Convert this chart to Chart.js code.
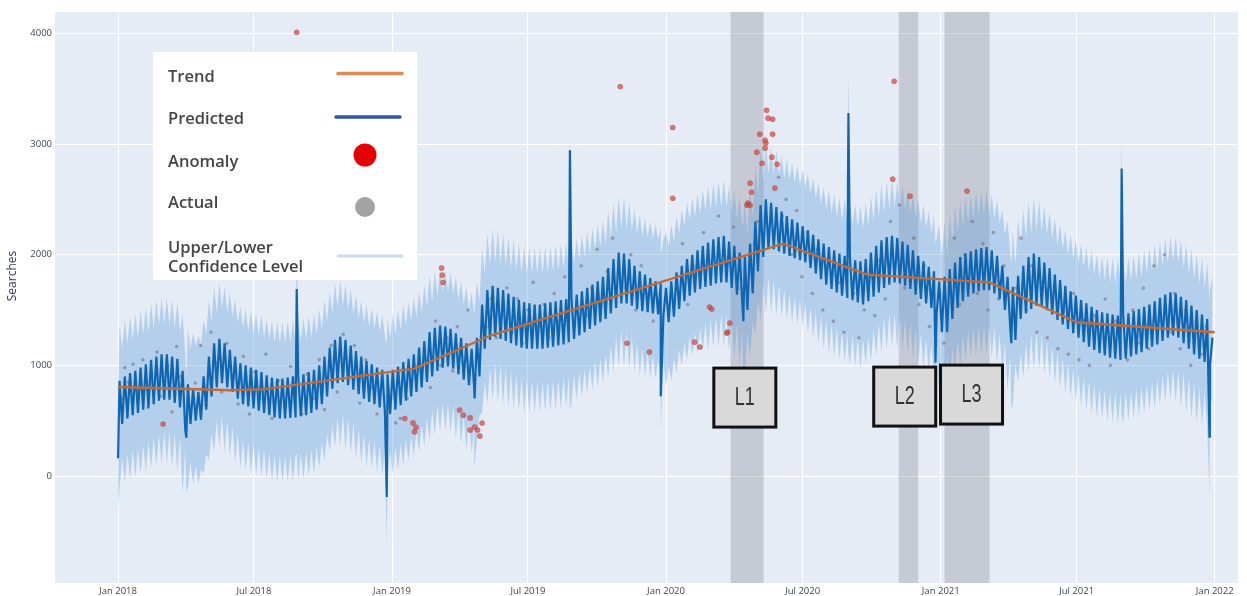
<!DOCTYPE html>
<html><head><meta charset="utf-8">
<script src="https://cdn.jsdelivr.net/npm/chart.js@4.4.1/dist/chart.umd.min.js"></script>
<style>html,body{margin:0;padding:0;background:#fff;}canvas{display:block;}</style>
</head><body>
<canvas id="c" width="1247" height="596"></canvas>
<script>
// x axis: days since 2018-01-01
const xTickDays = [0,181,365,546,730,912,1096,1277,1461];
const xTickLabels = ['Jan 2018','Jul 2018','Jan 2019','Jul 2019','Jan 2020','Jul 2020','Jan 2021','Jul 2021','Jan 2022'];
const yTicks = [0,1000,2000,3000,4000];

// weekly predicted highs (day 7k+2) and lows (day 7k+5.5)
const predPeak = [860,900,930,950,980,1010,1050,1080,1100,1100,
1080,1060,950,830,790,760,900,1080,1200,1240,
1200,1140,1080,1020,1000,980,960,940,910,890,
880,880,890,900,900,920,940,960,1000,1080,
1160,1230,1260,1230,1180,1130,1080,1040,1010,980,
950,920,960,990,1030,1060,1100,1160,1220,1300,
1340,1360,1350,1330,1290,1250,1200,1150,1250,1550,
1680,1720,1700,1680,1650,1620,1590,1570,1560,1550,
1550,1560,1570,1580,1590,1600,1610,1640,1670,1700,
1730,1760,1800,1880,1960,2020,2010,1960,1900,1850,
1820,1790,1760,1740,1700,1760,1840,1900,1960,2000,
2040,2080,2110,2140,2160,2170,2120,2080,2020,1980,
2100,2300,2450,2500,2470,2430,2390,2350,2320,2290,
2260,2220,2180,2140,2100,2070,2040,2010,1990,1970,
1950,1940,1960,2020,2080,2130,2160,2170,2150,2120,
2090,2040,1990,1940,1890,1850,1760,1800,1870,1930,
1980,2010,2030,2050,2060,2070,2040,1990,1900,1800,
1710,1810,1900,1980,2010,1980,1930,1880,1820,1770,
1720,1670,1630,1590,1560,1530,1500,1480,1470,1460,
1450,1460,1470,1490,1510,1530,1550,1580,1610,1640,
1660,1650,1620,1590,1540,1500,1460,1420];
const predTrough = [470,520,550,570,600,620,650,680,690,690,
660,620,420,470,500,510,600,720,800,840,
800,760,700,650,630,610,590,570,550,530,
520,520,525,530,540,550,570,600,650,720,
790,840,850,820,780,740,700,670,650,620,
580,560,600,640,680,720,760,800,850,900,
950,980,990,970,920,870,820,790,900,1150,
1230,1260,1240,1220,1200,1180,1160,1150,1150,1150,
1150,1160,1170,1180,1190,1210,1240,1270,1300,1330,
1360,1390,1420,1470,1520,1560,1560,1540,1510,1490,
1480,1470,1460,1450,1390,1440,1510,1580,1630,1660,
1690,1710,1720,1740,1750,1750,1700,1640,1580,1500,
1650,1850,1980,2050,2050,2030,2010,1990,1970,1950,
1930,1880,1830,1780,1730,1690,1660,1630,1610,1590,
1570,1550,1580,1620,1660,1700,1730,1750,1740,1720,
1690,1640,1600,1560,1520,1470,1300,1300,1420,1520,
1580,1620,1650,1670,1680,1680,1650,1600,1500,1350,
1230,1420,1470,1510,1540,1530,1500,1460,1410,1370,
1330,1290,1250,1210,1170,1140,1110,1090,1070,1060,
1050,1060,1080,1100,1120,1150,1170,1190,1220,1250,
1270,1250,1200,1150,1100,1060,1030,1000];

// confidence band edges on the same weekly days (wide on the high day, narrow on the low day)
const upperPeak = [1370,1410,1440,1460,1490,1520,1560,1590,1610,1610,
1590,1570,1460,1340,1300,1270,1410,1590,1710,1750,
1710,1650,1590,1530,1510,1490,1470,1450,1420,1400,
1390,1390,1400,1410,1410,1430,1450,1470,1510,1590,
1670,1740,1770,1740,1690,1640,1590,1550,1520,1490,
1460,1430,1470,1500,1540,1570,1610,1670,1730,1810,
1850,1870,1860,1840,1800,1760,1710,1660,1760,2060,
2190,2230,2210,2190,2160,2130,2100,2080,2070,2060,
2060,2070,2080,2090,2100,2110,2120,2150,2180,2210,
2240,2270,2310,2390,2470,2530,2520,2470,2410,2360,
2330,2300,2270,2250,2210,2270,2350,2410,2470,2510,
2550,2590,2620,2650,2670,2680,2630,2590,2530,2490,
2610,2810,2960,3010,2980,2940,2900,2860,2830,2800,
2770,2730,2690,2650,2610,2580,2550,2520,2500,2480,
2460,2450,2470,2530,2590,2640,2670,2680,2660,2630,
2600,2550,2500,2450,2400,2360,2270,2310,2380,2440,
2490,2520,2540,2560,2570,2580,2550,2500,2410,2310,
2220,2320,2410,2490,2520,2490,2440,2390,2330,2280,
2230,2180,2140,2100,2070,2040,2010,1990,1980,1970,
1960,1970,1980,2000,2020,2040,2060,2090,2120,2150,
2170,2160,2130,2100,2050,2010,1970,1930];
const upperTrough = [1150,1200,1230,1250,1280,1300,1330,1360,1370,1370,
1340,1300,1100,1150,1180,1190,1280,1400,1480,1520,
1480,1440,1380,1330,1310,1290,1270,1250,1230,1210,
1200,1200,1205,1210,1220,1230,1250,1280,1330,1400,
1470,1520,1530,1500,1460,1420,1380,1350,1330,1300,
1260,1240,1280,1320,1360,1400,1440,1480,1530,1580,
1630,1660,1670,1650,1600,1550,1500,1470,1580,1830,
1910,1940,1920,1900,1880,1860,1840,1830,1830,1830,
1830,1840,1850,1860,1870,1890,1920,1950,1980,2010,
2040,2070,2100,2150,2200,2240,2240,2220,2190,2170,
2160,2150,2140,2130,2070,2120,2190,2260,2310,2340,
2370,2390,2400,2420,2430,2430,2380,2320,2260,2180,
2330,2530,2660,2730,2730,2710,2690,2670,2650,2630,
2610,2560,2510,2460,2410,2370,2340,2310,2290,2270,
2250,2230,2260,2300,2340,2380,2410,2430,2420,2400,
2370,2320,2280,2240,2200,2150,1980,1980,2100,2200,
2260,2300,2330,2350,2360,2360,2330,2280,2180,2030,
1910,2100,2150,2190,2220,2210,2180,2140,2090,2050,
2010,1970,1930,1890,1850,1820,1790,1770,1750,1740,
1730,1740,1760,1780,1800,1830,1850,1870,1900,1930,
1950,1930,1880,1830,1780,1740,1710,1680];
const lowerPeak = [-110,-60,-30,-10,20,40,70,100,110,110,
80,40,-160,-110,-80,-70,20,140,220,260,
220,180,120,70,50,30,10,-10,-30,-50,
-60,-60,-55,-50,-40,-30,-10,20,70,140,
210,260,270,240,200,160,120,90,70,40,
0,-20,20,60,100,140,180,220,270,320,
370,400,410,390,340,290,240,210,320,570,
650,680,660,640,620,600,580,570,570,570,
570,580,590,600,610,630,660,690,720,750,
780,810,840,890,940,980,980,960,930,910,
900,890,880,870,810,860,930,1000,1050,1080,
1110,1130,1140,1160,1170,1170,1120,1060,1000,920,
1070,1270,1400,1470,1470,1450,1430,1410,1390,1370,
1350,1300,1250,1200,1150,1110,1080,1050,1030,1010,
990,970,1000,1040,1080,1120,1150,1170,1160,1140,
1110,1060,1020,980,940,890,720,720,840,940,
1000,1040,1070,1090,1100,1100,1070,1020,920,770,
650,840,890,930,960,950,920,880,830,790,
750,710,670,630,590,560,530,510,490,480,
470,480,500,520,540,570,590,610,640,670,
690,670,620,570,520,480,450,420];
const lowerTrough = [160,200,230,250,280,310,350,380,400,400,
380,360,250,130,90,60,200,380,500,540,
500,440,380,320,300,280,260,240,210,190,
180,180,190,200,200,220,240,260,300,380,
460,530,560,530,480,430,380,340,310,280,
250,220,260,290,330,360,400,460,520,600,
640,660,650,630,590,550,500,450,550,850,
980,1020,1000,980,950,920,890,870,860,850,
850,860,870,880,890,900,910,940,970,1000,
1030,1060,1100,1180,1260,1320,1310,1260,1200,1150,
1120,1090,1060,1040,1000,1060,1140,1200,1260,1300,
1340,1380,1410,1440,1460,1470,1420,1380,1320,1280,
1400,1600,1750,1800,1770,1730,1690,1650,1620,1590,
1560,1520,1480,1440,1400,1370,1340,1310,1290,1270,
1250,1240,1260,1320,1380,1430,1460,1470,1450,1420,
1390,1340,1290,1240,1190,1150,1060,1100,1170,1230,
1280,1310,1330,1350,1360,1370,1340,1290,1200,1100,
1010,1110,1200,1280,1310,1280,1230,1180,1120,1070,
1020,970,930,890,860,830,800,780,770,760,
750,760,770,790,810,830,850,880,910,940,
960,950,920,890,840,800,760,720];

// single-day holiday effects (New Year, Easter, Aug bank holiday, Christmas, end)
const holidayDays  = [0,91,238,358,475,602,723,833,973,1089,1190,1337,1454,1458];
const holidayPred  = [160,345,1690,-190,700,2945,720,1400,3280,1025,1200,2780,355,1250];
const holidayUpper = [700,900,2100,1200,1500,3100,2000,2300,3670,2100,1900,3050,1600,1800];
const holidayLower = [-300,-150,200,-640,100,600,420,850,1100,450,600,550,-170,650];

const trendDays   = [0,150,195,395,496,886,998,1161,1277,1461];
const trendValues = [805,775,785,970,1270,2100,1820,1750,1390,1300];

const actualDays = [5,9,14,20,26,33,40,45,52,57,66,72,78,84,96,103,110,117,124,131,138,145,152,160,167,175,182,189,197,205,214,222,230,245,252,260,268,275,284,292,300,307,315,322,330,338,345,352,
370,376,385,400,408,416,423,430,438,446,452,466,490,497,504,511,518,525,532,539,546,553,560,567,574,581,588,595,610,617,624,631,638,645,652,659,676,683,690,697,704,713,
733,745,752,759,766,780,795,800,820,826,848,852,880,885,890,897,904,911,918,925,932,939,946,953,960,967,980,987,994,1001,1008,1015,1022,1029,1041,1048,1060,1067,1074,1081,
1100,1107,1114,1121,1128,1138,1145,1152,1159,1166,1173,1180,1196,1203,1210,1217,1224,1231,1238,1245,1252,1259,1266,1273,1280,1287,1294,1301,1308,1315,1322,1329,1345,1352,1359,1366,1373,1380,1387,1394,1401,1408,1415,1422,1429,1436,1443,1450];
const actualValues = [700,980,850,1010,780,1050,620,930,1120,720,1000,580,1170,900,560,840,1180,640,1300,1020,760,1200,880,650,1080,560,940,700,1100,520,860,620,990,560,920,700,1050,600,1180,760,1280,900,1180,660,1050,800,560,950,
480,520,700,1000,1150,800,1400,1000,1250,950,1350,1500,1350,1600,1250,1450,1700,1300,1600,1200,1500,1750,1350,1550,1250,1650,1400,1800,1500,1900,1450,1700,2050,1600,1850,2150,1700,2000,1500,1900,1650,1400,
1500,1800,2100,1550,1900,2200,1900,2350,2250,1700,2100,2300,2700,2350,2500,2000,2400,1800,2200,1650,2050,1500,1900,1400,1750,1300,1650,1250,1500,1800,1450,1950,1600,2300,2450,1700,2150,1550,1900,1350,
1200,1750,2150,1550,2000,2300,1650,2100,1500,2200,1600,1900,1700,2150,1500,1900,1300,1750,1250,1600,1150,1500,1100,1650,1050,1400,1000,1450,1250,1600,1000,1400,1050,1500,1200,1700,1150,1900,1400,2000,1300,1650,1150,1500,1000,1400,1100,1350];

const anomalyDays = [60,238,382,393,395,397,431,432,433,455,460,469,469,475,479,482,485,669,678,708,739,739,768,775,788,791,811,812,815,838,839,842,842,844,851,855,858,862,862,863,864,866,871,872,872,875,878,1032,1034,1055,1131];
const anomalyValues = [470,4010,520,480,400,440,1880,1815,1750,596,550,525,415,443,415,361,479,3520,1200,1120,3150,2510,1210,1165,1527,1509,1292,1300,1382,2448,2466,2647,2448,2565,2927,3090,2827,3035,2963,3008,3305,3234,2882,3225,3090,2602,2818,2683,3568,2529,2575];

const lockdownStart = [816,1040,1101];
const lockdownEnd   = [860,1066,1161];
const boxLabels = ['L1','L2','L3'];
const boxDays   = [835,1048,1137];
const boxValues = [709,718,736];

const legendItems = ['Trend','Predicted','Anomaly','Actual','Upper/Lower|Confidence Level'];

// ---- build point tables ----
const WEEK = 7, PEAK_OFF = 2, TROUGH_OFF = 5.5;
function buildSeries(peaks, troughs, holidays){
  const pts = [];
  peaks.forEach((v,k)=>{
    pts.push({x:k*WEEK+PEAK_OFF, y:v});
    pts.push({x:k*WEEK+TROUGH_OFF, y:troughs[k]});
  });
  holidayDays.forEach((d,i)=>pts.push({x:d, y:holidays[i]}));
  pts.sort((a,b)=>a.x-b.x);
  return pts;
}
const predPts  = buildSeries(predPeak, predTrough, holidayPred);
const upperPts = buildSeries(upperPeak, upperTrough, holidayUpper);
const lowerPts = buildSeries(lowerPeak, lowerTrough, holidayLower);
const trendPts = trendDays.map((d,i)=>({x:d,y:trendValues[i]}));
const actualPts = actualDays.map((d,i)=>({x:d,y:actualValues[i]}));
const anomalyPts = anomalyDays.map((d,i)=>({x:d,y:anomalyValues[i]}));

const tickFont = {family:'"Open Sans", sans-serif', size:9.5};
const tickColor = '#3d4756';

const plotBg = {id:'plotBg', beforeDraw(chart){
  const {ctx, chartArea:a} = chart; ctx.save();
  ctx.fillStyle = '#e5ecf6'; ctx.fillRect(a.left,a.top,a.right-a.left,a.bottom-a.top); ctx.restore();
}};
const lockdowns = {id:'lockdowns', beforeDatasetsDraw(chart){
  const {ctx, chartArea:a, scales:{x}} = chart; ctx.save();
  ctx.fillStyle = 'rgba(150,152,165,0.40)';
  lockdownStart.forEach((s,i)=>{
    const x0 = x.getPixelForValue(s), x1 = x.getPixelForValue(lockdownEnd[i]);
    ctx.fillRect(x0, a.top, x1-x0, a.bottom-a.top);
  });
  ctx.restore();
}};
const boxes = {id:'boxes', afterDatasetsDraw(chart){
  const {ctx, scales:{x,y}} = chart; ctx.save();
  boxLabels.forEach((lab,i)=>{
    const cx = x.getPixelForValue(boxDays[i]), cy = y.getPixelForValue(boxValues[i]);
    const w = 62, h = 59;
    ctx.fillStyle = '#d9d9d9'; ctx.fillRect(cx-w/2, cy-h/2, w, h);
    ctx.lineWidth = 3; ctx.strokeStyle = '#111'; ctx.strokeRect(cx-w/2, cy-h/2, w, h);
    ctx.save();
    ctx.translate(cx, cy+1); ctx.scale(0.72, 1);
    ctx.fillStyle = '#333'; ctx.font = '25px "Liberation Sans", sans-serif';
    ctx.textAlign = 'center'; ctx.textBaseline = 'middle'; ctx.fillText(lab, 0, 0);
    ctx.restore();
  });
  ctx.restore();
}};
const legendBox = {id:'legendBox', afterDraw(chart){
  const ctx = chart.ctx; ctx.save();
  ctx.fillStyle = '#ffffff'; ctx.fillRect(153, 52, 264, 228);
  ctx.fillStyle = '#454545'; ctx.font = '600 16.5px "Open Sans", sans-serif';
  ctx.textAlign = 'left'; ctx.textBaseline = 'alphabetic';
  const base = [82,124,167,208,253];
  legendItems.forEach((t,i)=>{
    const parts = t.split('|');
    parts.forEach((p,j)=>ctx.fillText(p, 168, base[i] + j*18.5));
  });
  ctx.lineCap = 'round';
  ctx.lineWidth = 3.5; ctx.strokeStyle = '#df8a50';
  ctx.beginPath(); ctx.moveTo(338,73.5); ctx.lineTo(402,73.5); ctx.stroke();
  ctx.strokeStyle = '#2b59a6';
  ctx.beginPath(); ctx.moveTo(336,117); ctx.lineTo(400,117); ctx.stroke();
  ctx.lineWidth = 3; ctx.strokeStyle = '#c9dbef';
  ctx.beginPath(); ctx.moveTo(338,256); ctx.lineTo(402,256); ctx.stroke();
  ctx.fillStyle = '#e60000'; ctx.beginPath(); ctx.arc(365,155,11.5,0,Math.PI*2); ctx.fill();
  ctx.fillStyle = '#a3a3a3'; ctx.beginPath(); ctx.arc(365,207,10,0,Math.PI*2); ctx.fill();
  // y axis title
  ctx.translate(13, 276); ctx.rotate(-Math.PI/2);
  ctx.fillStyle = '#2f3e55'; ctx.font = '12px "Open Sans", sans-serif';
  ctx.textAlign = 'center'; ctx.textBaseline = 'middle'; ctx.fillText('Searches', 0, 0);
  ctx.restore();
}};

new Chart(document.getElementById('c'), {
  type: 'line',
  data: { datasets: [
    {label:'Trend', data:trendPts, borderColor:'#c46a36', borderWidth:2.4, pointRadius:0, order:0, fill:false},
    {label:'Anomaly', data:anomalyPts, showLine:false, pointRadius:2.6, pointBackgroundColor:'rgba(214,72,62,0.72)', pointBorderColor:'rgba(160,60,60,0.6)', pointBorderWidth:0.5, order:1},
    {label:'Predicted', data:predPts, borderColor:'#0e66b2', borderWidth:2.2, pointRadius:0, order:2, fill:false},
    {label:'Actual', data:actualPts, showLine:false, pointRadius:1.8, pointBackgroundColor:'rgba(110,110,122,0.55)', pointBorderWidth:0, order:3},
    {label:'Upper', data:upperPts, borderWidth:0, borderColor:'rgba(0,0,0,0)', pointRadius:0, backgroundColor:'rgba(95,155,215,0.36)', fill:'+1', order:4},
    {label:'Lower', data:lowerPts, borderWidth:0, borderColor:'rgba(0,0,0,0)', pointRadius:0, fill:false, order:5}
  ]},
  options: {
    responsive:false, animation:false, devicePixelRatio:1,
    layout:{padding:{top:12,right:9,left:0,bottom:0}},
    elements:{line:{tension:0}},
    plugins:{legend:{display:false}, tooltip:{enabled:false}},
    scales:{
      x:{type:'linear', min:-84, max:1492,
        afterFit(s){s.height = 13;},
        afterBuildTicks(s){s.ticks = xTickDays.map(v=>({value:v}));},
        ticks:{padding:3, maxRotation:0, autoSkip:false, font:tickFont, color:tickColor,
          callback:(v,i)=>xTickLabels[i]},
        grid:{color:'#ffffff', lineWidth:1, drawTicks:false}, border:{display:false}},
      y:{type:'linear', min:-967, max:4194,
        afterFit(s){s.width = 55;},
        afterBuildTicks(s){s.ticks = yTicks.map(v=>({value:v}));},
        ticks:{padding:3, font:tickFont, color:tickColor, callback:(v)=>String(v)},
        grid:{color:'#ffffff', lineWidth:1, drawTicks:false}, border:{display:false}}
    }
  },
  plugins:[plotBg, lockdowns, boxes, legendBox]
});
</script>
</body></html>
